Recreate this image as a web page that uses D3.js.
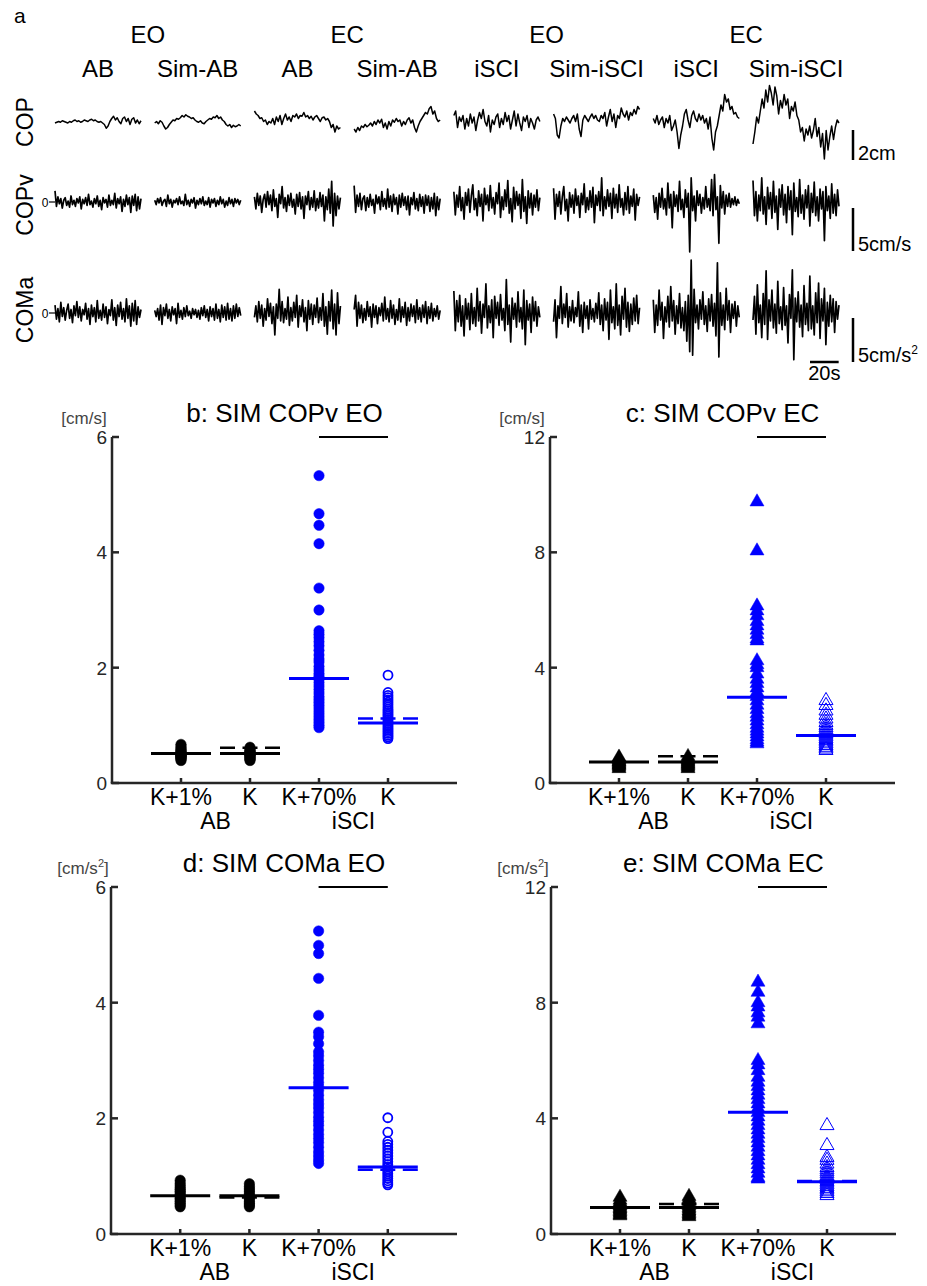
<!DOCTYPE html>
<html><head><meta charset="utf-8">
<script src="https://cdn.jsdelivr.net/npm/d3@7"></script>
<style>body{margin:0;background:#fff;} text{font-family:"Liberation Sans",Arial,Helvetica,sans-serif;}</style>
</head><body><svg id="c" width="927" height="1286"></svg>
<script>
// ---------- Panel a: labels ----------
const conditions = ["EO", "EC", "EO", "EC"];
const traceGroups = ["AB", "Sim-AB", "AB", "Sim-AB", "iSCI", "Sim-iSCI", "iSCI", "Sim-iSCI"];
const rowNames = ["COP", "COPv", "COMa"];
const scaleBarValues = [2, 5, 5];
const scaleBarLabels = ["2cm", "5cm/s", "5cm/s"];
const timeBarLabel = "20s";

// COP traces [cm], one per condition/group
const cop1 = [0.0,0.05,0.1,0.05,0.15,0.1,0.05,0.0,0.1,0.05,0.15,0.2,0.1,0.15,0.05,0.1,0.2,0.15,0.1,0.2,0.25,0.15,0.2,0.1,0.05,0.1,0.0,-0.1,-0.35,-0.2,0.1,0.3,0.45,0.2,0.35,0.1,-0.05,0.3,0.4,0.1,0.3,-0.1,0.25,0.35,0.0,0.2,-0.05,0.15];
const cop2 = [0.0,0.1,-0.05,0.15,0.05,-0.2,-0.4,-0.3,-0.1,0.05,0.2,0.15,0.3,0.25,0.35,0.5,0.4,0.55,0.45,0.4,0.3,0.35,0.2,0.1,0.05,0.15,0.0,-0.05,0.1,0.2,0.3,0.25,0.4,0.35,0.5,0.3,0.4,0.2,0.1,-0.1,-0.2,-0.1,-0.3,-0.15,-0.25,-0.2,-0.1,-0.2];
const cop3 = [0.8,0.6,0.5,0.3,0.35,0.1,0.2,-0.1,0.1,0.0,0.3,-0.1,0.4,0.1,0.5,-0.1,0.3,0.6,0.2,0.4,0.1,0.5,0.4,0.6,0.3,0.5,0.45,0.7,0.4,0.5,0.3,0.45,0.2,0.4,0.5,0.3,0.1,0.35,0.4,0.2,0.3,0.1,-0.3,-0.1,-0.6,-0.2,-0.4,-0.3];
const cop4 = [-0.4,-0.6,-0.3,-0.5,-0.2,-0.3,-0.1,-0.25,-0.15,0.0,-0.2,0.1,-0.1,0.2,0.0,0.25,-0.3,0.0,-0.4,0.1,-0.2,0.2,0.05,0.3,0.1,0.2,-0.2,0.1,-0.1,0.2,0.35,0.0,0.2,-0.3,-0.6,-0.2,0.1,0.3,0.5,0.7,0.6,0.95,1.1,0.6,0.8,0.3,0.1,0.2];
const cop5 = [0.5,0.8,-0.3,0.4,0.1,0.5,-0.4,0.3,-0.2,0.6,0.0,0.4,-0.5,0.2,0.7,0.3,0.9,0.1,-0.2,0.5,-0.6,0.2,-0.1,0.4,0.6,-0.3,0.3,-0.1,0.7,0.1,0.5,-0.4,0.2,0.8,-0.2,0.6,0.0,-0.5,0.4,0.1,0.5,-0.3,0.3,0.0,-0.4,0.2,0.4,0.1];
const cop6 = [0.6,0.3,-0.8,-1.0,-0.2,0.3,0.1,0.4,0.2,0.0,0.3,0.5,0.1,0.6,-0.4,-0.9,0.2,0.5,0.3,0.1,0.4,0.6,0.3,0.5,0.2,0.1,0.5,0.3,0.7,-0.2,0.4,0.9,0.1,0.6,-0.3,0.5,0.3,1.0,0.6,0.4,0.8,0.2,0.7,0.5,0.9,0.6,1.1,0.9];
const cop7 = [0.3,0.0,0.5,-0.1,0.2,0.4,-0.3,0.3,0.0,0.5,-0.5,-0.2,0.2,-0.6,-1.7,-0.8,-0.2,0.6,0.9,0.2,-0.3,0.5,0.8,0.3,0.1,0.6,0.2,0.5,0.0,0.3,-0.4,0.4,-1.0,-1.8,-0.6,-0.2,0.5,1.2,0.8,1.9,1.4,1.6,0.9,1.1,0.6,0.7,0.4,0.3];
const cop8 = [-1.4,-0.6,0.4,0.0,0.8,1.6,1.0,2.2,1.4,2.5,2.0,1.2,2.4,1.8,0.6,1.5,1.0,1.9,1.2,1.6,0.3,1.1,0.8,1.4,0.5,0.2,-0.6,-0.3,-1.2,-0.4,-0.8,-0.2,-1.0,-0.5,0.3,-0.9,-0.3,-1.6,-0.7,-2.4,-0.5,-1.8,-0.9,-0.2,-1.1,-0.3,0.2,0.0];

// COP velocity traces [cm/s]
const copv1 = [1.3,-0.5,0.6,-0.2,0.4,-0.7,0.2,0.5,-0.4,0.1,-0.6,0.7,-0.3,0.2,-0.5,0.4,-0.1,0.6,-0.8,0.3,-0.2,0.5,-0.4,0.9,-0.3,0.1,-0.6,0.4,-0.2,0.7,-0.5,0.2,-0.9,0.5,-0.1,0.3,-0.6,0.8,-0.4,0.2,-0.3,1.0,-0.7,0.4,-0.2,0.6,-1.1,0.3,-0.5,0.8,-0.3,0.5,-1.2,0.7,-0.4,0.9,-1.0,0.6,-0.8,0.4];
const copv2 = [0.2,-0.3,0.4,-0.1,0.5,-0.4,0.1,0.3,-0.5,0.8,-0.2,0.3,-0.6,0.2,-0.1,0.4,-0.3,0.6,-0.2,0.1,-0.4,0.9,-0.3,0.2,-0.5,0.3,-0.1,0.5,-0.7,0.2,-0.3,0.4,-0.2,0.6,-0.4,0.1,-0.3,0.5,-0.6,0.3,-0.1,0.4,-0.5,0.2,-0.3,0.6,-0.2,0.3,-0.6,0.1,-0.4,0.5,-0.2,0.3,-0.5,0.4,-0.1,0.3,-0.3,0.2];
const copv3 = [0.6,-0.8,1.0,-0.4,0.7,-1.2,0.3,0.9,-0.6,1.2,-0.3,0.8,-1.0,1.4,-0.5,0.4,-1.8,0.9,-0.2,1.8,-0.7,0.5,-1.1,0.8,-0.4,1.0,-0.6,0.3,-1.4,0.9,-0.5,1.1,-0.8,0.6,-1.9,0.7,-0.3,1.2,-0.9,0.5,-0.6,1.3,-1.0,0.4,-0.7,1.1,-0.5,0.8,-2.2,0.6,-0.9,1.5,-1.3,2.4,-2.8,1.0,-1.6,0.7,-0.8,0.5];
const copv4 = [1.9,-1.2,0.8,-0.5,1.0,-0.9,0.4,0.7,-1.0,0.5,-0.6,0.9,-0.4,0.3,-1.3,0.8,-0.2,0.6,-0.9,1.2,-0.5,0.4,-0.8,1.5,-0.6,0.7,-1.1,0.9,-0.3,0.5,-1.4,0.8,-0.6,1.0,-0.4,0.6,-0.9,0.7,-1.5,0.5,-0.3,1.1,-0.8,0.4,-1.0,0.9,-0.5,0.6,-1.3,0.8,-0.4,0.7,-1.1,0.5,-0.8,1.0,-1.6,0.6,-0.9,0.4];
const copv5 = [1.2,-1.5,0.8,-0.6,1.8,-1.0,0.5,-2.0,1.1,-0.4,1.5,-1.2,0.7,2.0,-0.9,0.4,-1.6,1.3,-0.5,0.9,-2.2,1.6,-0.3,0.8,-1.0,1.9,-0.7,0.5,-1.4,1.1,-0.2,2.2,-1.8,0.6,-0.9,1.4,-0.5,2.5,-1.3,0.4,-2.3,1.7,-0.8,1.2,-0.4,0.9,-1.9,2.6,-1.1,0.6,-2.5,1.3,-0.7,1.0,-1.5,0.8,-0.6,1.4,-1.0,0.5];
const copv6 = [1.6,-2.0,0.9,-0.5,1.2,-1.4,0.6,1.8,-1.0,0.3,-2.2,1.1,-0.6,0.8,-1.3,1.5,-0.4,0.7,-1.8,1.0,-0.3,2.1,-1.2,0.5,-0.9,1.3,-0.6,1.7,-2.4,0.8,-0.4,1.2,-1.0,2.8,-1.6,0.6,-0.8,1.4,-0.5,1.0,-1.9,1.6,-0.7,0.9,-1.2,2.0,-0.6,0.4,-1.5,1.1,-0.9,1.8,-1.3,0.7,-0.5,1.5,-2.1,0.9,-0.4,0.6];
const copv7 = [0.8,-1.2,0.5,-2.0,1.0,-0.6,1.6,-0.8,0.4,-1.5,2.2,-0.7,0.9,-3.0,1.2,-0.5,0.8,-1.1,2.4,-0.9,0.3,-1.8,1.4,-0.6,1.0,-5.8,2.8,-1.0,0.7,-2.2,1.3,-0.4,0.9,-1.3,0.5,-0.8,1.8,-0.6,0.4,-1.0,2.6,-1.6,3.2,-0.9,0.6,-4.8,1.9,-0.7,1.2,-1.4,0.8,-0.5,1.0,-0.6,0.4,-0.3,0.6,-0.4,0.3,-0.2];
const copv8 = [2.5,-1.6,1.2,-2.2,0.8,-1.0,2.8,-1.4,0.6,-2.6,1.7,-0.8,1.1,-1.9,2.4,-1.2,0.7,-3.2,1.5,-0.6,2.0,-1.5,0.9,-2.4,1.8,-0.9,1.3,-3.8,2.2,-1.1,0.5,-1.7,2.6,-1.3,0.8,-2.0,1.4,-0.7,1.9,-2.8,1.0,-1.2,2.3,-1.6,0.6,-2.2,1.5,-0.8,1.2,-4.5,1.8,-1.0,0.7,-1.9,2.1,-1.3,0.9,-1.6,1.4,-0.5];

// COM acceleration traces [cm/s^2]
const coma1 = [0.9,-0.7,0.5,-1.0,1.2,-0.4,0.6,-0.8,0.3,1.0,-0.6,0.4,-1.1,0.8,-0.3,1.3,-0.5,0.7,-0.9,0.4,-0.2,1.1,-0.7,0.5,-1.3,0.9,-0.4,0.6,-1.0,1.4,-0.6,0.3,-0.8,1.0,-0.5,0.7,-1.2,0.4,-0.3,1.5,-0.8,0.6,-1.4,0.9,-0.4,1.2,-0.7,0.5,-1.0,1.6,-0.6,0.8,-1.5,1.1,-0.9,1.4,-1.3,0.7,-0.5,0.4];
const coma2 = [0.3,-0.4,0.5,-0.8,0.9,-1.3,0.6,-0.3,1.0,-0.6,0.4,-0.9,0.7,-0.2,0.5,-1.2,1.1,-0.5,0.3,-0.7,0.6,-0.4,0.8,-0.3,0.2,-0.6,0.5,-0.2,0.4,-0.5,0.3,-0.7,0.6,-0.3,0.8,-0.5,0.4,-0.9,0.7,-0.4,0.5,-0.8,1.0,-0.6,0.4,-1.0,0.9,-0.5,0.7,-0.8,1.1,-0.7,0.5,-0.9,0.8,-0.6,1.0,-0.4,0.6,-0.3];
const coma3 = [-0.5,0.8,-1.0,1.3,-0.6,0.9,-1.5,0.5,-0.8,1.6,-0.4,1.1,-1.2,0.7,-2.5,1.0,-0.6,2.7,-0.9,1.3,-1.1,0.5,-0.7,1.8,-1.4,0.6,-0.9,1.2,-0.5,2.0,-1.6,0.8,-0.4,1.5,-1.0,0.6,-2.0,1.4,-0.7,1.0,-1.3,0.9,-0.5,1.7,-1.1,0.6,-0.8,2.2,-1.5,0.7,-2.4,1.3,-0.9,2.6,-1.8,1.0,-2.5,2.3,-1.2,0.8];
const coma4 = [0.4,2.0,-1.5,1.2,-0.6,0.9,-1.1,0.5,-0.8,1.3,-0.4,0.7,-1.6,1.0,-0.5,0.8,-1.2,0.6,-0.3,1.1,-0.9,1.8,-0.7,0.5,-1.0,1.4,-0.6,0.9,-1.3,0.4,-0.8,1.6,-1.0,0.7,-0.5,1.2,-1.4,0.6,-0.9,1.0,-0.4,0.8,-1.1,1.5,-0.7,0.6,-1.0,0.9,-0.5,1.3,-1.2,0.7,-0.6,1.1,-0.9,0.5,-0.4,0.8,-0.7,0.3];
const coma5 = [2.5,-2.0,1.4,-1.0,2.0,-1.5,0.8,-2.6,1.6,-0.7,1.1,-1.9,2.2,-1.2,0.6,-1.5,2.8,-0.9,1.3,-2.3,1.0,-0.5,3.3,-1.7,0.8,-1.1,1.5,-2.8,1.9,-0.6,1.2,-1.4,2.1,-0.8,0.5,-2.0,3.8,-1.3,0.9,-3.3,1.7,-0.7,1.1,-1.6,2.4,-1.0,0.6,-1.8,2.6,-3.6,1.4,-0.8,1.0,-2.2,1.8,-0.9,1.3,-1.5,0.7,-0.5];
const coma6 = [-1.0,1.5,-2.8,0.8,-0.6,3.0,-1.2,1.0,-0.5,2.2,-1.6,0.7,-0.9,1.4,-1.1,0.6,-0.4,2.4,-1.5,0.9,-2.2,1.2,-0.6,0.8,-1.8,1.5,-0.7,0.5,-1.0,1.1,-0.6,2.3,-1.3,0.9,-2.0,1.6,-0.8,1.2,-3.0,2.6,-1.1,0.7,-1.8,3.3,-1.4,0.9,-2.5,1.9,-0.7,2.8,-1.6,1.2,-2.1,1.0,-1.3,1.7,-0.9,2.0,-1.2,0.6];
const coma7 = [1.5,-2.2,0.9,-1.4,2.6,-0.8,1.2,-2.9,0.7,-1.0,1.9,-1.6,3.0,-0.9,1.4,-2.4,0.8,-1.2,2.2,-1.7,0.6,-2.0,1.3,-3.2,2.0,-4.4,6.0,-4.8,2.7,-1.1,0.9,-1.8,1.5,-0.7,2.4,-1.3,0.8,-2.1,1.6,-0.9,2.1,-1.5,1.1,-2.6,5.7,-5.0,2.3,-1.4,0.9,-1.9,2.8,-0.8,1.4,-2.2,1.0,-0.6,1.3,-1.5,0.8,-0.5];
const coma8 = [-0.8,1.9,-2.4,3.2,-1.1,0.9,-2.8,2.2,-1.3,4.8,-3.0,1.5,-0.9,2.6,-1.7,1.0,-2.3,3.6,-1.2,0.7,-1.9,2.9,-1.4,0.8,-3.4,2.1,-0.6,4.9,-5.3,1.7,-1.0,2.4,-1.6,0.9,-2.7,3.1,-1.3,1.1,-2.0,4.2,-1.8,0.8,-2.5,2.3,-1.1,3.4,-2.9,1.6,-0.9,2.8,-3.6,1.2,-1.5,2.0,-1.0,1.6,-2.2,1.3,-0.7,0.9];

// ---------- Panels b-e ----------
const categories = ["K+1%", "K", "K+70%", "K"];
const groupLabels = ["AB", "iSCI"];
// b: SIM COPv EO [cm/s]
const bABK1 = [0.39,0.41,0.43,0.44,0.45,0.46,0.47,0.48,0.49,0.50,0.51,0.52,0.53,0.55,0.57,0.59,0.61,0.64,0.67];
const bABK = [0.39,0.41,0.42,0.44,0.45,0.47,0.48,0.49,0.50,0.51,0.52,0.54,0.55,0.57,0.59,0.62];
const bSCIK70 = [5.33,4.67,4.47,4.15,3.38,3.0,2.64,2.58,2.52,2.45,2.38,2.3,2.22,2.15,2.1,2.02,1.96,1.9,1.85,1.8,1.74,1.68,1.62,1.56,1.5,1.45,1.4,1.35,1.3,1.25,1.2,1.15,1.1,1.05,1.0,0.96];
const bSCIK = [1.87,1.57,1.52,1.48,1.44,1.4,1.36,1.32,1.28,1.25,1.22,1.19,1.16,1.13,1.1,1.07,1.04,1.01,0.98,0.95,0.92,0.89,0.86,0.83,0.8,0.77];
const bMean = [0.51, 0.51, 1.81, 1.04];
const bExpMean = [null, 0.61, null, 1.12];
// c: SIM COPv EC [cm/s]
const cABK1 = [0.5,0.55,0.6,0.63,0.66,0.7,0.73,0.76,0.8,0.85,0.9];
const cABK = [0.5,0.55,0.6,0.64,0.68,0.72,0.76,0.8,0.85,0.92];
const cSCIK70 = [9.75,8.05,6.14,5.97,5.8,5.6,5.45,5.3,5.15,5.0,4.93,4.24,4.1,4.0,3.78,3.6,3.45,3.3,3.15,3.0,2.85,2.7,2.55,2.4,2.28,2.15,2.02,1.9,1.8,1.7,1.6,1.5,1.42,1.36];
const cSCIK = [2.86,2.69,2.5,2.35,2.22,2.1,2.0,1.92,1.85,1.78,1.72,1.66,1.6,1.54,1.48,1.42,1.36,1.3,1.24,1.18,1.13];
const cMean = [0.73, 0.73, 2.97, 1.65];
const cExpMean = [null, 0.93, null, 1.66];
// d: SIM COMa EO [cm/s^2]
const dABK1 = [0.47,0.5,0.53,0.56,0.59,0.62,0.65,0.68,0.71,0.74,0.77,0.8,0.84,0.88,0.93];
const dABK = [0.47,0.5,0.53,0.56,0.6,0.63,0.66,0.7,0.74,0.78,0.82,0.87];
const dSCIK70 = [5.24,4.99,4.85,4.42,3.78,3.49,3.41,3.29,3.15,3.08,3.0,2.92,2.85,2.78,2.7,2.62,2.55,2.48,2.4,2.32,2.25,2.18,2.1,2.02,1.95,1.88,1.8,1.72,1.65,1.58,1.5,1.42,1.35,1.28,1.22];
const dSCIK = [2.01,1.76,1.6,1.55,1.5,1.45,1.4,1.35,1.3,1.25,1.2,1.16,1.12,1.08,1.04,1.0,0.96,0.92,0.88,0.85];
const dMean = [0.66, 0.66, 2.53, 1.16];
const dExpMean = [null, 0.63, null, 1.11];
// e: SIM COMa EC [cm/s^2]
const eABK1 = [0.63,0.67,0.72,0.77,0.82,0.87,0.92,0.97,1.03,1.1,1.17,1.27];
const eABK = [0.6,0.65,0.7,0.75,0.8,0.86,0.92,0.98,1.05,1.13,1.22,1.3];
const eSCIK70 = [8.71,8.36,8.0,7.85,7.65,7.5,7.27,6.0,5.85,5.65,5.42,5.25,5.1,4.95,4.8,4.65,4.5,4.35,4.2,4.05,3.9,3.75,3.6,3.45,3.3,3.15,3.0,2.85,2.7,2.55,2.4,2.25,2.1,1.95,1.9];
const eSCIK = [3.75,3.06,2.65,2.55,2.42,2.3,2.22,2.15,2.08,2.0,1.94,1.88,1.82,1.76,1.7,1.64,1.58,1.52,1.46,1.4,1.33];
const eMean = [0.92, 0.92, 4.21, 1.81];
const eExpMean = [null, 1.04, null, 1.83];

const yTicks6 = [0, 2, 4, 6];
const yTicks12 = [0, 4, 8, 12];

// ================= drawing =================
const svg = d3.select("#c");
const BLUE = "#0000ff";

// ---- panel a ----
svg.append("text").attr("x", 14).attr("y", 23).attr("font-size", 21).text("a");
const traceStart = d3.scaleLinear().domain([0, 7]).range([55, 753]);
const traceW = 86;
traceGroups.forEach((g, i) => {
  svg.append("text").attr("x", traceStart(i) + traceW / 2).attr("y", 77)
    .attr("text-anchor", "middle").attr("font-size", 24).text(g);
});
conditions.forEach((c, j) => {
  svg.append("text").attr("x", (traceStart(2 * j) + traceStart(2 * j + 1) + traceW) / 2).attr("y", 43)
    .attr("text-anchor", "middle").attr("font-size", 24).text(c);
});

const rows = [
  { name: rowNames[0], traces: [cop1, cop2, cop3, cop4, cop5, cop6, cop7, cop8], cy: 123, ppu: 15, zero: false, labelY: 122, barBottom: 160 },
  { name: rowNames[1], traces: [copv1, copv2, copv3, copv4, copv5, copv6, copv7, copv8], cy: 202, ppu: 8.6, zero: true, labelY: 205, barBottom: 251 },
  { name: rowNames[2], traces: [coma1, coma2, coma3, coma4, coma5, coma6, coma7, coma8], cy: 313, ppu: 8.8, zero: true, labelY: 310, barBottom: 362 }
];
rows.forEach((r, ri) => {
  const y = d3.scaleLinear().domain([-1, 1]).range([r.cy + r.ppu, r.cy - r.ppu]);
  r.traces.forEach((t, i) => {
    const x = d3.scaleLinear().domain([0, t.length - 1]).range([traceStart(i), traceStart(i) + traceW]);
    svg.append("path").attr("d", d3.line().x((d, k) => x(k)).y(d => y(d))(t))
      .attr("fill", "none").attr("stroke", "#000").attr("stroke-width", ri === 0 ? 1.5 : 1.7).attr("stroke-linejoin", "round");
  });
  svg.append("text").attr("transform", `translate(33,${r.labelY}) rotate(-90)`)
    .attr("text-anchor", "middle").attr("font-size", 23).text(r.name);
  if (r.zero) {
    svg.append("text").attr("x", 45).attr("y", r.cy + 4.5).attr("text-anchor", "middle").attr("font-size", 12).text("0");
    svg.append("line").attr("x1", 49).attr("x2", 55).attr("y1", y(0)).attr("y2", y(0)).attr("stroke", "#000").attr("stroke-width", 1.2);
  }
  // scale bar
  const len = y(0) - y(scaleBarValues[ri]);
  svg.append("line").attr("x1", 853).attr("x2", 853).attr("y1", r.barBottom - len).attr("y2", r.barBottom)
    .attr("stroke", "#000").attr("stroke-width", 2.5);
  const lt = svg.append("text").attr("x", 858).attr("y", r.barBottom).attr("font-size", 20).text(scaleBarLabels[ri]);
  if (ri === 2) lt.append("tspan").attr("dy", -8).attr("font-size", 12).text("2");
});
// time bar: 20 s of a 60 s trace
const tScale = d3.scaleLinear().domain([0, 60]).range([0, traceW]);
svg.append("line").attr("x1", 810).attr("x2", 810 + tScale(20)).attr("y1", 362).attr("y2", 362)
  .attr("stroke", "#000").attr("stroke-width", 2.5);
svg.append("text").attr("x", 810 + tScale(10)).attr("y", 380).attr("text-anchor", "middle").attr("font-size", 20).text(timeBarLabel);

// ---- panels b-e ----
const panels = [
  { title: "b: SIM COPv EO", unit: "[cm/s]", sup: false, ticks: yTicks6, xr: [112, 457], yr: [783, 437], marker: "circle",
    groups: [bABK1, bABK, bSCIK70, bSCIK], mean: bMean, exp: bExpMean },
  { title: "c: SIM COPv EC", unit: "[cm/s]", sup: false, ticks: yTicks12, xr: [550, 895], yr: [783, 437], marker: "triangle",
    groups: [cABK1, cABK, cSCIK70, cSCIK], mean: cMean, exp: cExpMean },
  { title: "d: SIM COMa EO", unit: "[cm/s", sup: true, ticks: yTicks6, xr: [111, 457], yr: [1234, 887], marker: "circle",
    groups: [dABK1, dABK, dSCIK70, dSCIK], mean: dMean, exp: dExpMean },
  { title: "e: SIM COMa EC", unit: "[cm/s", sup: true, ticks: yTicks12, xr: [551, 896], yr: [1234, 887], marker: "triangle",
    groups: [eABK1, eABK, eSCIK70, eSCIK], mean: eMean, exp: eExpMean }
];
const groupColor = ["#000", "#000", BLUE, BLUE];
const groupFilled = [true, true, true, false];

panels.forEach(p => {
  const g = svg.append("g");
  const x = d3.scaleLinear().domain([0, 5]).range(p.xr);
  const y = d3.scaleLinear().domain([0, d3.max(p.ticks)]).range(p.yr);
  const x0 = p.xr[0];
  // markers
  p.groups.forEach((vals, gi) => {
    const sym = d3.symbol().type(p.marker === "circle" ? d3.symbolCircle : d3.symbolTriangle)
      .size(p.marker === "circle" ? (groupFilled[gi] ? 85 : 64) : 85);
    g.selectAll(null).data(vals).enter().append("path")
      .attr("d", sym)
      .attr("transform", d => `translate(${x(gi + 1)},${y(d)})`)
      .attr("fill", groupFilled[gi] ? groupColor[gi] : "none")
      .attr("stroke", groupColor[gi])
      .attr("stroke-width", groupFilled[gi] ? 0.5 : (p.marker === "circle" ? 1.8 : 1));
  });
  // mean lines (simulation: solid; experimental: dashed)
  p.mean.forEach((m, gi) => {
    g.append("line").attr("x1", x(gi + 1) - 30).attr("x2", x(gi + 1) + 30).attr("y1", y(m)).attr("y2", y(m))
      .attr("stroke", groupColor[gi]).attr("stroke-width", 3);
  });
  p.exp.forEach((m, gi) => {
    if (m == null) return;
    g.append("line").attr("x1", x(gi + 1) - 30).attr("x2", x(gi + 1) + 30).attr("y1", y(m)).attr("y2", y(m))
      .attr("stroke", groupColor[gi]).attr("stroke-width", 2.5).attr("stroke-dasharray", "15,7.5");
  });
  // axes
  g.append("line").attr("x1", x0).attr("x2", x0).attr("y1", p.yr[0]).attr("y2", p.yr[1]).attr("stroke", "#262626").attr("stroke-width", 2.5);
  g.append("line").attr("x1", x0 - 1.25).attr("x2", p.xr[1]).attr("y1", p.yr[0]).attr("y2", p.yr[0]).attr("stroke", "#262626").attr("stroke-width", 2.5);
  p.ticks.forEach(t => {
    g.append("line").attr("x1", x0).attr("x2", x0 + 7).attr("y1", y(t)).attr("y2", y(t)).attr("stroke", "#262626").attr("stroke-width", 2.5);
    g.append("text").attr("x", x0 - 5).attr("y", y(t) + 7).attr("text-anchor", "end").attr("font-size", 19).attr("fill", "#262626").text(t);
  });
  categories.forEach((c, ci) => {
    g.append("line").attr("x1", x(ci + 1)).attr("x2", x(ci + 1)).attr("y1", p.yr[0]).attr("y2", p.yr[0] - 5).attr("stroke", "#262626").attr("stroke-width", 2.5);
    g.append("text").attr("x", x(ci + 1)).attr("y", p.yr[0] + 22).attr("text-anchor", "middle").attr("font-size", 23).text(c);
  });
  groupLabels.forEach((gl, k) => {
    g.append("text").attr("x", (x(2 * k + 1) + x(2 * k + 2)) / 2).attr("y", p.yr[0] + 46).attr("text-anchor", "middle").attr("font-size", 23).text(gl);
  });
  // significance bar
  g.append("line").attr("x1", x(3)).attr("x2", x(4)).attr("y1", p.yr[1]).attr("y2", p.yr[1]).attr("stroke", "#000").attr("stroke-width", 2);
  // title & unit
  g.append("text").attr("x", (p.xr[0] + p.xr[1]) / 2).attr("y", p.yr[1] - 15).attr("text-anchor", "middle").attr("font-size", 26).text(p.title);
  const u = g.append("text").attr("x", x0 - 28).attr("y", p.yr[1] - 13).attr("text-anchor", "middle").attr("font-size", 17).attr("fill", "#444").text(p.unit);
  if (p.sup) {
    u.append("tspan").attr("dy", -7).attr("font-size", 11).text("2");
    u.append("tspan").attr("dy", 7).text("]");
  }
});
</script></body></html>
